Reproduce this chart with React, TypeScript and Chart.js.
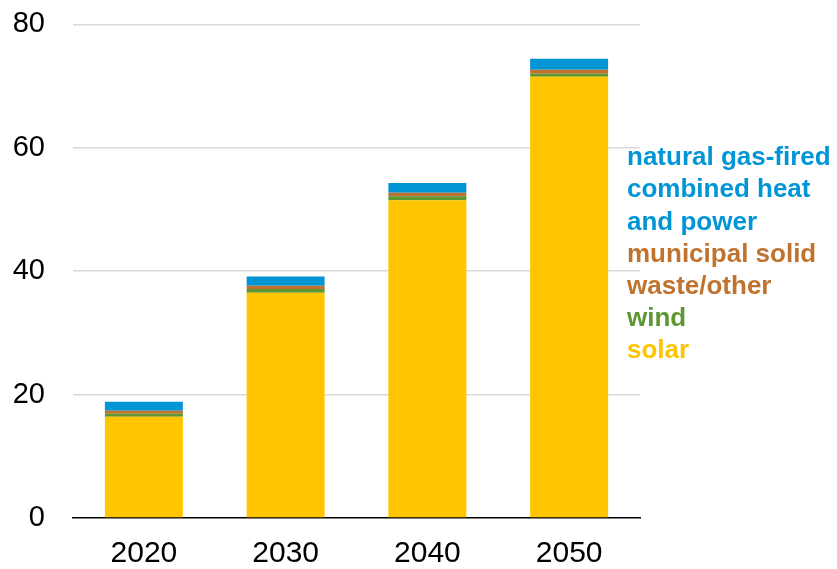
import React, { useEffect, useRef } from "react";
import { Chart, registerables } from "chart.js";

Chart.register(...registerables);

const categories = ["2020", "2030", "2040", "2050"];
const solar = [16.4, 36.5, 51.5, 71.5];
const wind = [0.5, 0.6, 0.65, 0.5];
const municipalSolid = [0.5, 0.55, 0.55, 0.65];
const naturalGasCHP = [1.45, 1.5, 1.6, 1.8];
const yTicks = [0, 20, 40, 60, 80];

const legendLines = [
  { text: "natural gas-fired", color: "#0096D6" },
  { text: "combined heat", color: "#0096D6" },
  { text: "and power", color: "#0096D6" },
  { text: "municipal solid", color: "#C0732F" },
  { text: "waste/other", color: "#C0732F" },
  { text: "wind", color: "#5E9732" },
  { text: "solar", color: "#FFC400" },
];

const FONT = "'Liberation Sans', Arial, sans-serif";
const SHIFT = 21;

export default function App() {
  const ref = useRef<HTMLCanvasElement | null>(null);
  useEffect(() => {
    if (!ref.current) return;
    const legendPlugin = {
      id: "sideLegend",
      afterDraw(chart: any) {
        const ctx = chart.ctx;
        ctx.save();
        ctx.font = `bold 26px ${FONT}`;
        ctx.textBaseline = "middle";
        ctx.textAlign = "left";
        legendLines.forEach((l, i) => {
          ctx.fillStyle = l.color;
          ctx.fillText(l.text, 627, SHIFT + 158 + i * 32.2);
        });
        ctx.restore();
      },
    };
    const chart = new Chart(ref.current, {
      type: "bar",
      data: {
        labels: categories,
        datasets: [
          { label: "solar", data: solar, backgroundColor: "#FFC600" },
          { label: "wind", data: wind, backgroundColor: "#5E9732" },
          { label: "municipal solid waste/other", data: municipalSolid, backgroundColor: "#C0732F" },
          { label: "natural gas-fired combined heat and power", data: naturalGasCHP, backgroundColor: "#0096D6" },
        ],
      },
      options: {
        responsive: false,
        animation: false,
        layout: { padding: { left: 0, right: 197, top: 0, bottom: -13 } },
        datasets: { bar: { barPercentage: 0.55, categoryPercentage: 1 } },
        plugins: { legend: { display: false }, tooltip: { enabled: false } },
        scales: {
          x: {
            stacked: true,
            grid: { display: false },
            border: { color: "#000000", width: 1.5 },
            ticks: { color: "#000", font: { family: FONT, size: 30 }, padding: 10 },
          },
          y: {
            stacked: true,
            min: 0,
            max: 80,
            afterBuildTicks: (axis: any) => {
              axis.ticks = yTicks.map((v) => ({ value: v }));
            },
            afterFit: (axis: any) => {
              axis.width = 73;
            },
            grid: {
              color: (c: any) => (c.tick && c.tick.value === 0 ? "rgba(0,0,0,0)" : "#D9D9D9"),
              lineWidth: 1.5,
              drawTicks: false,
            },
            border: { display: false },
            ticks: { color: "#000", font: { family: FONT, size: 29 }, padding: 28 },
          },
        },
      },
      plugins: [legendPlugin],
    });
    return () => chart.destroy();
  }, []);
  return (
    <div style={{ position: "fixed", left: 0, top: 0, width: 837, height: 569, background: "#fff", overflow: "hidden" }}>
      <canvas
        ref={ref}
        width={837}
        height={569 + SHIFT}
        style={{ position: "absolute", left: 0, top: -SHIFT }}
      />
    </div>
  );
}
